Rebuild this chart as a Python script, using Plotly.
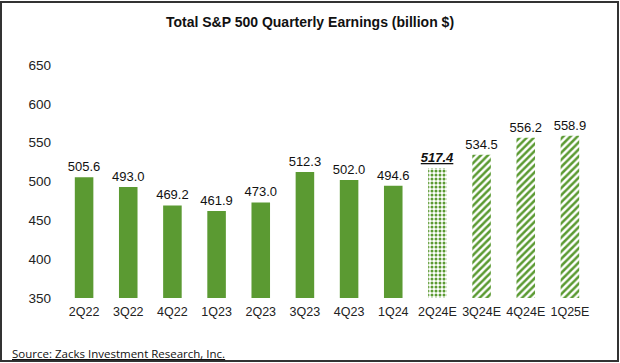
import plotly.graph_objects as go

categories = ["2Q22", "3Q22", "4Q22", "1Q23", "2Q23", "3Q23", "4Q23", "1Q24",
              "2Q24E", "3Q24E", "4Q24E", "1Q25E"]
earnings = [505.6, 493.0, 469.2, 461.9, 473.0, 512.3, 502.0, 494.6,
            517.4, 534.5, 556.2, 558.9]
patterns = ["", "", "", "", "", "", "", "", ".", "/", "/", "/"]
y_ticks = [350, 400, 450, 500, 550, 600, 650]

GREEN = "#5B9A32"

labels = []
for c, v in zip(categories, earnings):
    if c == "2Q24E":
        labels.append("<b><i><u>%.1f</u></i></b>" % v)
    else:
        labels.append("%.1f" % v)

fig = go.Figure()
fig.add_trace(go.Bar(
    x=categories,
    y=earnings,
    text=labels,
    textposition="outside",
    constraintext="none",
    cliponaxis=False,
    textfont=dict(family="Liberation Sans, Arial", size=13, color="#111111"),
    marker=dict(
        color=GREEN,
        line=dict(width=0),
        pattern=dict(shape=patterns, fgcolor=GREEN, bgcolor="white",
                     size=[5] * 8 + [4, 5, 5, 5],
                     solidity=[0.5] * 8 + [0.45, 0.5, 0.5, 0.5],
                     fillmode="replace"),
    ),
    width=0.42,
))

fig.update_layout(
    width=620, height=363,
    margin=dict(l=62, r=28, t=65, b=65),
    paper_bgcolor="white", plot_bgcolor="white",
    showlegend=False,
    title=dict(text="<b>Total S&P 500 Quarterly Earnings (billion $)</b>",
               x=0.5, xanchor="center", y=1 - 22 / 363, yanchor="middle",
               font=dict(family="Liberation Sans, Arial", size=14, color="#111111")),
    xaxis=dict(showgrid=False, showline=False, zeroline=False, ticks="",
               ticklabelstandoff=4,
               tickfont=dict(family="Liberation Sans, Arial", size=12.5, color="#222222")),
    yaxis=dict(range=[350, 650], tickvals=y_ticks, showgrid=False, showline=False,
               zeroline=False, ticks="", ticklabelstandoff=10,
               tickfont=dict(family="Liberation Sans, Arial", size=13.5, color="#222222")),
    shapes=[dict(type="rect", xref="paper", yref="paper",
                 x0=-61 / 530, x1=1 + 26 / 530, y0=-63 / 233, y1=1 + 63 / 233,
                 line=dict(color="#333333", width=2), fillcolor="rgba(0,0,0,0)")],
    annotations=[dict(text="<u>Source: Zacks Investment Research, Inc.</u>",
                      xref="paper", yref="paper", x=-52 / 530, y=-55 / 233,
                      xanchor="left", yanchor="middle", showarrow=False,
                      font=dict(family="Open Sans, Liberation Sans", size=11.5, color="#111111"))],
)

fig.write_html("out.html", config={"displayModeBar": False},
               post_script="document.body.style.margin='0';document.body.style.overflow='hidden';")
